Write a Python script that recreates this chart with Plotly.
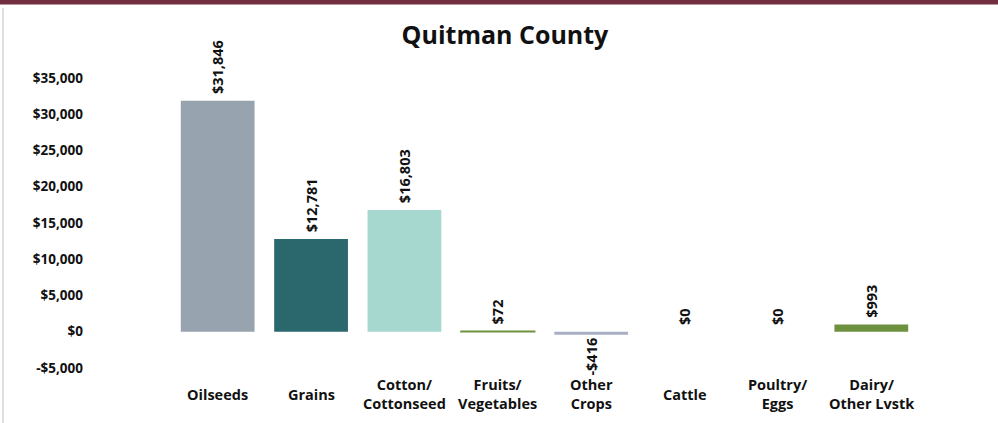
import plotly.graph_objects as go

categories = ["Oilseeds", "Grains", "Cotton/<br>Cottonseed", "Fruits/<br>Vegetables",
              "Other<br>Crops", "Cattle", "Poultry/<br>Eggs", "Dairy/<br>Other Lvstk"]
values = [31846, 12781, 16803, 72, -416, 0, 0, 993]
labels = ["$31,846", "$12,781", "$16,803", "$72", "-$416", "$0", "$0", "$993"]
colors = ["#97A3AE", "#2A686E", "#A6D8CF", "#6E9140", "#AAAFC4", "#6E9140", "#6E9140", "#6E9140"]
tick_vals = [-5000, 0, 5000, 10000, 15000, 20000, 25000, 30000, 35000]
tick_text = ["-$5,000", "$0", "$5,000", "$10,000", "$15,000", "$20,000", "$25,000", "$30,000", "$35,000"]

FONT = "Open Sans"
W, H = 998, 423
ML, MR, MT, MB = 171, 80, 78, 55
PH = H - MT - MB
PW = W - ML - MR


def py(pix):  # pixel row from top -> paper y
    return 1 + (MT - pix) / PH


def px(pix):
    return (pix - ML) / PW


line_w = [1.4 if 0 < abs(v) < 200 else 0 for v in values]

fig = go.Figure(go.Bar(
    x=list(range(len(categories))), y=values, marker_color=colors,
    marker_line=dict(color=colors, width=line_w),
    text=labels, texttemplate="\u00a0%{text}", textposition="outside", textangle=-90,
    cliponaxis=False, constraintext="none",
    textfont=dict(family=FONT, size=14.5, color="#111111", weight="bold"),
))

for i, c in enumerate(categories):
    fig.add_annotation(x=i, y=py(394), xref="x", yref="paper", text=c, showarrow=False,
                       yanchor="middle", font=dict(family=FONT, size=14.5, color="#111111", weight="bold"))

fig.add_shape(type="rect", xref="paper", yref="paper", x0=px(-10), x1=px(W + 10), y0=py(4.5), y1=py(-10),
              fillcolor="#722F40", line_width=0, layer="above")
fig.add_shape(type="line", xref="paper", yref="paper", x0=px(3), x1=px(3), y0=py(8), y1=py(H + 5),
              line=dict(color="#D4D4D4", width=1.5))

fig.update_layout(
    width=W, height=H, paper_bgcolor="white", plot_bgcolor="white",
    margin=dict(l=ML, r=MR, t=MT, b=MB),
    bargap=0.21, showlegend=False,
    title=dict(text="Quitman County", x=0.506, xanchor="center", y=1 - 35 / H, yanchor="middle",
               font=dict(family=FONT, size=25, color="#111111", weight="bold")),
    xaxis=dict(range=[-0.5, 7.5], showticklabels=False, showgrid=False, zeroline=False, showline=False),
    yaxis=dict(range=[-5000, 35000], tickvals=tick_vals, ticktext=tick_text, showgrid=False,
               zeroline=False, showline=False, ticklabelstandoff=87,
               tickfont=dict(family=FONT, size=13.5, color="#111111", weight="bold")),
)

fig.write_html("out.html", config={"displayModeBar": False},
               post_script="document.body.style.margin='0';document.body.style.padding='0';")
